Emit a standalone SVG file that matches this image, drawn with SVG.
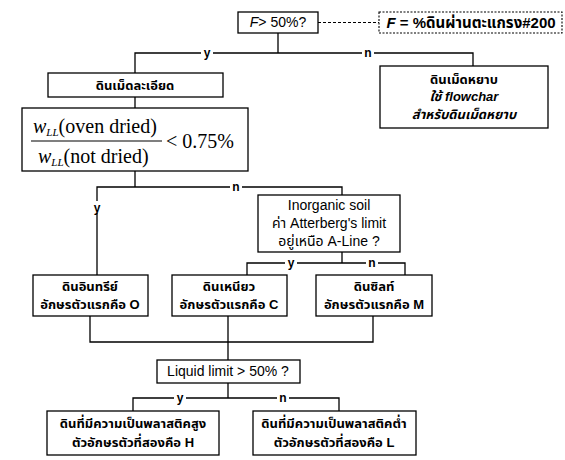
<svg xmlns="http://www.w3.org/2000/svg" width="565" height="460" viewBox="0 0 565 460">
<style>
.box{fill:#fff;stroke:#000;stroke-width:1.3}
.dbox{fill:#fff;stroke:#000;stroke-width:1.1;stroke-dasharray:2 1.5}
.ln{fill:none;stroke:#000;stroke-width:1.3}
.dl{fill:none;stroke:#000;stroke-width:1;stroke-dasharray:3 2}
.t{font-family:"Liberation Sans","Noto Sans Thai",Arial,sans-serif;font-size:13px;fill:#000;text-anchor:middle}
.th{font-weight:bold}
.lab{font-family:"Liberation Sans",Arial,sans-serif;font-size:12px;fill:#000;text-anchor:middle;font-weight:bold}
.m{font-family:"Liberation Serif","Times New Roman",serif;font-size:20px;fill:#000}
</style>
<rect width="565" height="460" fill="#fff"/>
<g id="connectors">
<path class="dl" d="M318 22.5H379"/>
<path class="ln" d="M278 33V53M135 73V53H473V66"/>
<path class="ln" d="M135 97V108"/>
<path class="ln" d="M135 171V187M97 275V187H342V195"/>
<path class="ln" d="M342 252V263M247 275V263H405V275"/>
<path class="ln" d="M90 316V342H373V316M228 316V342M228 342V360"/>
<path class="ln" d="M228 383V398M133 411V398H339V411"/>
<g>
<rect x="201" y="46" width="12" height="12" fill="#fff"/><text class="lab" x="207" y="57">y</text>
<rect x="362" y="46" width="12" height="12" fill="#fff"/><text class="lab" x="368" y="57">n</text>
<rect x="230" y="180" width="12" height="12" fill="#fff"/><text class="lab" x="236" y="191">n</text>
<rect x="91" y="201" width="12" height="12" fill="#fff"/><text class="lab" x="97" y="212">y</text>
<rect x="285" y="256" width="12" height="12" fill="#fff"/><text class="lab" x="291" y="267">y</text>
<rect x="366" y="256" width="12" height="12" fill="#fff"/><text class="lab" x="372" y="267">n</text>
<rect x="174" y="391" width="12" height="12" fill="#fff"/><text class="lab" x="180" y="402">y</text>
<rect x="277" y="391" width="12" height="12" fill="#fff"/><text class="lab" x="283" y="402">n</text>
</g>
</g>
<g id="q1">
<rect class="box" x="238" y="12" width="80" height="21"/>
<text class="t" x="278" y="27" style="font-size:14px"><tspan font-style="italic">F</tspan>&gt; 50%?</text>
</g>
<g id="note">
<rect class="dbox" x="379" y="12" width="183" height="21"/>
<text class="t th" x="471" y="28" style="font-size:15px"><tspan font-style="italic">F</tspan> = %ดินผ่านตะแกรง#200</text>
</g>
<g id="fine">
<rect class="box" x="48" y="73" width="175" height="24"/>
<text class="t th" x="135" y="90">ดินเม็ดละเอียด</text>
</g>
<g id="coarse">
<rect class="box" x="380" y="66" width="168" height="62"/>
<text class="t th" x="464" y="84">ดินเม็ดหยาบ</text>
<text class="t th" x="464" y="101" font-style="italic">ใช้ flowchar</text>
<text class="t th" x="464" y="119" font-style="italic">สำหรับดินเม็ดหยาบ</text>
</g>
<g id="formula">
<rect class="box" x="22" y="108" width="226" height="63"/>
<text class="m" x="33" y="133"><tspan font-style="italic">w</tspan><tspan font-style="italic" font-size="11" dy="3">LL</tspan><tspan dy="-3">(oven dried)</tspan></text>
<path d="M31 141H162" stroke="#000" stroke-width="1.2"/>
<text class="m" x="38" y="163"><tspan font-style="italic">w</tspan><tspan font-style="italic" font-size="11" dy="3">LL</tspan><tspan dy="-3">(not dried)</tspan></text>
<text class="m" x="166" y="148">&lt; 0.75%</text>
</g>
<g id="inorganic">
<rect class="box" x="258" y="195" width="142" height="57"/>
<text class="t" x="329" y="210" style="font-size:14px">Inorganic soil</text>
<text class="t" x="329" y="228" style="font-size:14px">ค่า Atterberg's limit</text>
<text class="t" x="329" y="246" style="font-size:14px">อยู่เหนือ A-Line ?</text>
</g>
<g id="organic">
<rect class="box" x="33" y="275" width="115" height="41"/>
<text class="t th" x="90" y="291">ดินอินทรีย์</text>
<text class="t th" x="90" y="309">อักษรตัวแรกคือ O</text>
</g>
<g id="clay">
<rect class="box" x="172" y="275" width="115" height="41"/>
<text class="t th" x="229" y="291">ดินเหนียว</text>
<text class="t th" x="229" y="309">อักษรตัวแรกคือ C</text>
</g>
<g id="silt">
<rect class="box" x="316" y="275" width="116" height="41"/>
<text class="t th" x="374" y="291">ดินซิลท์</text>
<text class="t th" x="374" y="309">อักษรตัวแรกคือ M</text>
</g>
<g id="ll">
<rect class="box" x="157" y="360" width="143" height="23"/>
<text class="t" x="228" y="376" style="font-size:14px">Liquid limit &gt; 50% ?</text>
</g>
<g id="high">
<rect class="box" x="47" y="411" width="172" height="44"/>
<text class="t th" x="133" y="428">ดินที่มีความเป็นพลาสติคสูง</text>
<text class="t th" x="133" y="447">ตัวอักษรตัวที่สองคือ H</text>
</g>
<g id="low">
<rect class="box" x="253" y="411" width="163" height="44"/>
<text class="t th" x="334" y="428">ดินที่มีความเป็นพลาสติคต่ำ</text>
<text class="t th" x="334" y="447">ตัวอักษรตัวที่สองคือ L</text>
</g>
</svg>
